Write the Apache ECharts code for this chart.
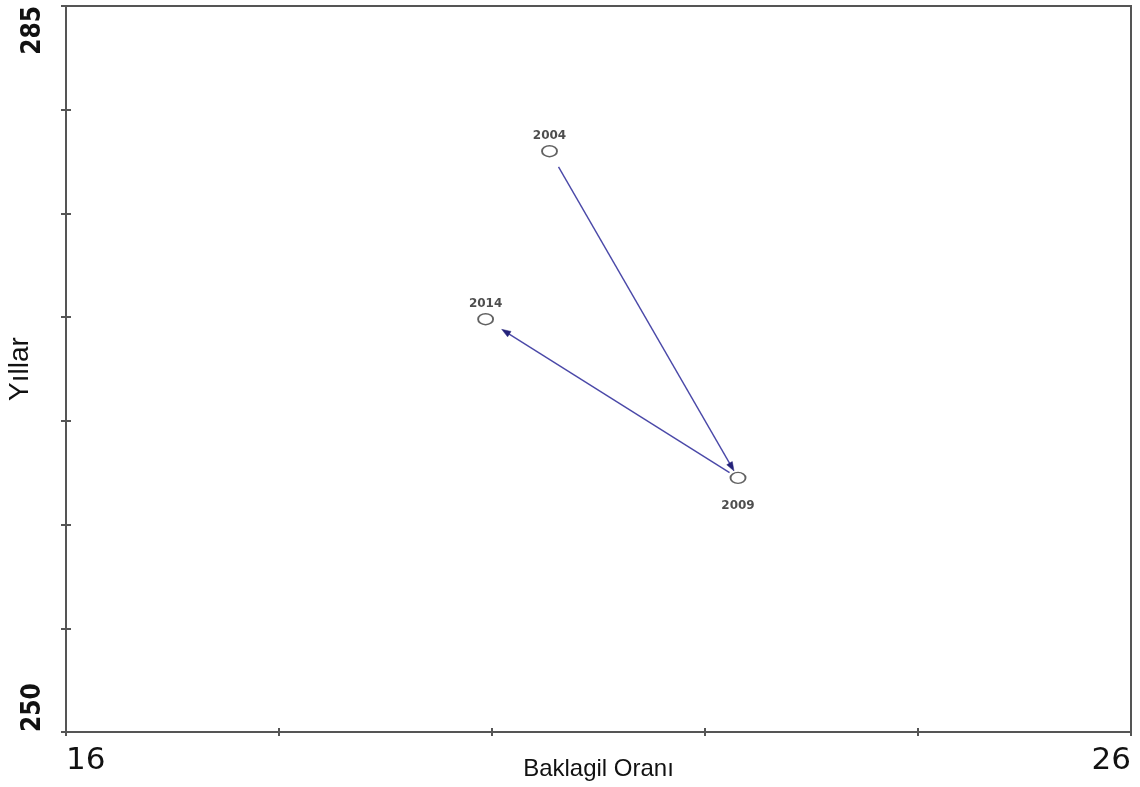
<!DOCTYPE html>
<html>
<head>
<meta charset="utf-8">
<title>Baklagil Oranı</title>
<script src="https://cdn.jsdelivr.net/npm/echarts@6/dist/echarts.min.js"></script>
<style>
  html, body { margin: 0; padding: 0; background: #ffffff; }
  #chart { width: 1140px; height: 787px; }
</style>
</head>
<body>
<div id="chart"></div>
<script>
// Observations: legume share (x) against the yearly value (y)
const years = ['2004', '2009', '2014'];
const baklagilOrani = [20.54, 22.31, 19.94];
const yillarDegeri = [278.0, 262.25, 269.9];

// Axis ranges and the tick labels that are printed
const xMin = 16, xMax = 26, xStep = 2;
const yMin = 250, yMax = 285, yStep = 5;
const xTickLabels = ['16', '26'];
const yTickLabels = ['250', '285'];

// Arrows run through the years in order
const arrowPath = [[0, 1], [1, 2]];

const points = years.map((y, i) => [baklagilOrani[i], yillarDegeri[i], y]);

const axisColor = '#555555';
const arrowColor = '#4a48a8';
const headColor = '#24227a';
// gap (px) left open at the start and end of each arrow
const arrowGaps = [[18, 8], [10, 19]];
const labelPos = { '2004': 'top', '2009': 'bottom', '2014': 'top' };
const labelDist = { '2004': 3, '2009': 16, '2014': 3 };

const chart = echarts.init(document.getElementById('chart'), null, { renderer: 'canvas' });

const baseX = {
  type: 'value', min: xMin, max: xMax, interval: xStep,
  splitLine: { show: false }
};
const baseY = {
  type: 'value', min: yMin, max: yMax, interval: yStep,
  splitLine: { show: false }
};

chart.setOption({
  backgroundColor: '#ffffff',
  animation: false,
  grid: {
    left: 66, right: 9, top: 6, bottom: 55,
    containLabel: false, outerBoundsMode: 'none',
    show: true, borderColor: axisColor, borderWidth: 2, backgroundColor: 'transparent'
  },
  xAxis: [
    Object.assign({}, baseX, {
      position: 'bottom',
      name: 'Baklagil Oranı',
      nameLocation: 'middle',
      nameGap: 25,
      nameMoveOverlap: false,
      nameTextStyle: { fontFamily: 'Liberation Sans, Arial, sans-serif', fontSize: 24, color: '#111' },
      axisLine: { show: true, lineStyle: { color: axisColor, width: 2 } },
      axisTick: { show: true, inside: false, length: 4, lineStyle: { color: axisColor, width: 2 } },
      axisLabel: {
        show: true, margin: 13,
        fontFamily: 'DejaVu Sans, sans-serif', fontSize: 31, color: '#111',
        alignMinLabel: 'left', alignMaxLabel: 'right',
        formatter: v => (xTickLabels.indexOf(String(v)) >= 0 ? String(v) : '')
      }
    }),
    Object.assign({}, baseX, {
      position: 'bottom',
      axisLine: { show: false },
      axisTick: { show: true, inside: true, length: 4, lineStyle: { color: axisColor, width: 2 } },
      axisLabel: { show: false }
    })
  ],
  yAxis: [
    Object.assign({}, baseY, {
      position: 'left',
      name: 'Yıllar',
      nameLocation: 'middle',
      nameGap: 32,
      nameRotate: 90,
      nameMoveOverlap: false,
      nameTextStyle: { fontFamily: 'Liberation Sans, Arial, sans-serif', fontSize: 28, color: '#111' },
      axisLine: { show: true, lineStyle: { color: axisColor, width: 2 } },
      axisTick: { show: true, inside: false, length: 5, lineStyle: { color: axisColor, width: 2 } },
      axisLabel: {
        show: true, rotate: 90, margin: 20,
        fontFamily: 'DejaVu Sans Condensed, sans-serif',
        fontWeight: 'bold', fontSize: 26, color: '#111',
        alignMinLabel: 'left', alignMaxLabel: 'right',
        formatter: v => (yTickLabels.indexOf(String(v)) >= 0 ? String(v) : '')
      }
    }),
    Object.assign({}, baseY, {
      position: 'left',
      axisLine: { show: false },
      axisTick: { show: true, inside: true, length: 5, lineStyle: { color: axisColor, width: 2 } },
      axisLabel: { show: false }
    })
  ],
  series: [
    {
      type: 'custom',
      coordinateSystem: 'cartesian2d',
      data: arrowPath.map(p => [p[0], p[1]]),
      renderItem: function (params, api) {
        const idx = params.dataIndex;
        const a = points[api.value(0)], b = points[api.value(1)];
        const p0 = api.coord([a[0], a[1]]);
        const p1 = api.coord([b[0], b[1]]);
        const dx = p1[0] - p0[0], dy = p1[1] - p0[1];
        const len = Math.sqrt(dx * dx + dy * dy);
        const ux = dx / len, uy = dy / len;
        const g = arrowGaps[idx];
        const s = [p0[0] + ux * g[0], p0[1] + uy * g[0]];
        const e = [p1[0] - ux * g[1], p1[1] - uy * g[1]];
        const hl = 9, hw = 3.2;
        const base = [e[0] - ux * hl, e[1] - uy * hl];
        const nx = -uy, ny = ux;
        return {
          type: 'group',
          children: [
            {
              type: 'line',
              shape: { x1: s[0], y1: s[1], x2: base[0] + ux * 2, y2: base[1] + uy * 2 },
              style: { stroke: arrowColor, lineWidth: 1.4 }
            },
            {
              type: 'polygon',
              shape: { points: [e, [base[0] + nx * hw, base[1] + ny * hw], [base[0] - nx * hw, base[1] - ny * hw]] },
              style: { fill: headColor, stroke: headColor, lineWidth: 0.5 }
            }
          ]
        };
      },
      z: 2
    },
    {
      type: 'scatter',
      data: points.map(p => ({
        value: p,
        label: { position: labelPos[p[2]], distance: labelDist[p[2]] }
      })),
      symbol: 'circle',
      symbolSize: [15, 11],
      itemStyle: { color: '#ffffff', borderColor: '#3a3a3a', borderWidth: 1.6 },
      label: {
        show: true,
        formatter: p => p.value[2],
        fontFamily: 'DejaVu Sans, sans-serif',
        fontWeight: 'bold', fontSize: 12, color: '#222'
      },
      z: 3
    }
  ]
});
</script>
</body>
</html>
